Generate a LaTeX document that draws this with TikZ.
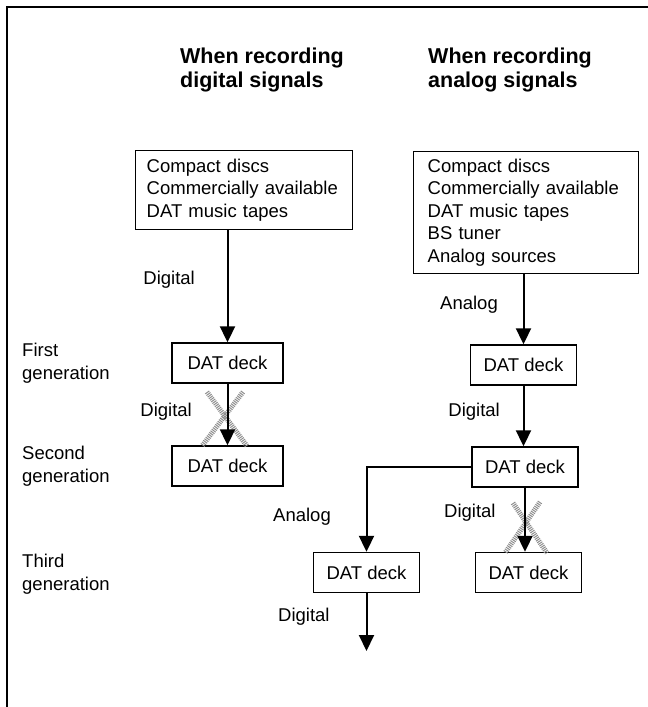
\documentclass[tikz,border=0pt]{standalone}
\usepackage{fontspec}
\setmainfont{Liberation Sans}
\usetikzlibrary{arrows.meta,calc}
\begin{document}
\begin{tikzpicture}[x=1pt,y=-1pt,
  every node/.style={font=\fontsize{18.5}{22.5}\selectfont, inner sep=0pt},
  deck/.style={draw, line width=1.4pt, minimum height=40pt, minimum width=106pt},
  src/.style={draw, line width=1.4pt, align=left, inner xsep=11pt, inner ysep=0pt, anchor=north west},
  arr/.style={line width=2pt, -{Triangle[length=16pt,width=15pt]}},
  xmark/.style={draw=black!45, line width=5pt, dash pattern=on 1pt off 1pt},
  hdr/.style={font=\fontsize{21.5}{24}\selectfont\bfseries, align=left, anchor=west},
  gen/.style={align=left, anchor=west},
  frame/.style={line width=2pt}]
\useasboundingbox (0,0) rectangle (648,707);
% frame
\draw[frame] (7,707) -- (7,7) -- (648,7);
% headers
\node[hdr] (hL) at (180,70) {When recording\\digital signals};
\node[hdr] (hR) at (428,70) {When recording\\analog signals};
% sources
\node[src, text width=195pt, minimum height=79pt] (srcL) at (135,150)
  {Compact discs\\Commercially available\\DAT music tapes};
\node[src, inner xsep=14pt, text width=197pt, minimum height=122pt] (srcR) at (413,151)
  {Compact discs\\Commercially available\\DAT music tapes\\BS tuner\\Analog sources};
% generation labels
\node[gen] (g1) at (22,363) {First\\generation};
\node[gen] (g2) at (22,466) {Second\\generation};
\node[gen] (g3) at (22,574) {Third\\generation};
% decks
\node[deck, minimum width=111pt] (dL1) at (227.5,363) {DAT deck};
\node[deck, minimum width=111pt] (dL2) at (227.5,466) {DAT deck};
\node[deck] (dR1) at (523.5,365) {DAT deck};
\node[deck] (dR2) at (525,467) {DAT deck};
\node[deck] (dL3) at (366.5,572.5) {DAT deck};
\node[deck] (dR3) at (528.5,572.5) {DAT deck};
\coordinate (endpt) at (366.5,651);
% labels
\node[anchor=east] (lDig1) at (195,280) {Digital};
\node[anchor=west] (lAna1) at (440,305) {Analog};
\node[anchor=east] (lDig2) at (192,412) {Digital};
\node[anchor=east] (lDig3) at (500,412) {Digital};
\node[anchor=west] (lAna2) at (273,517) {Analog};
\node[anchor=west] (lDig4) at (444,513) {Digital};
\node[anchor=west] (lDig5) at (278,617) {Digital};
% crosses
\draw[xmark] (207,392) -- (247,446);
\draw[xmark] (243,392) -- (202,446);
\draw[xmark] (513,503) -- (547,553);
\draw[xmark] (540,502) -- (505,553);
% connectors
\draw[arr] (srcL.south -| dL1.north) -- (dL1.north);
\draw[arr] (dL1) -- (dL2);
\draw[arr] (srcR.south -| dR1.north) -- (dR1.north);
\draw[arr] (dR1.south) -- (dR1.south |- dR2.north);
\draw[arr] (dR2.south) -- (dR2.south |- dR3.north);
\draw[arr] (dR2.west) -| (dL3.north);
\draw[arr] (dL3.south) -- (endpt);
\end{tikzpicture}
\end{document}
